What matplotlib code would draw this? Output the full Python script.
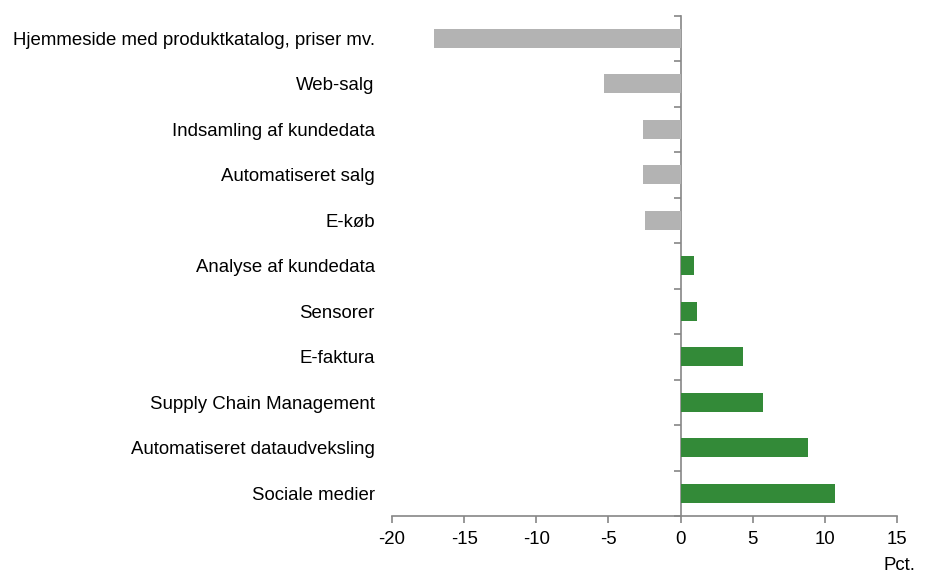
import matplotlib
matplotlib.use("Agg")
import matplotlib.pyplot as plt
import numpy as np

plt.rcParams['font.family'] = ['Liberation Sans', 'DejaVu Sans']

categories = [
    "Hjemmeside med produktkatalog, priser mv.",
    "Web-salg",
    "Indsamling af kundedata",
    "Automatiseret salg",
    "E-køb",
    "Analyse af kundedata",
    "Sensorer",
    "E-faktura",
    "Supply Chain Management",
    "Automatiseret dataudveksling",
    "Sociale medier",
]
values = [-17.1, -5.3, -2.6, -2.6, -2.5, 0.9, 1.15, 4.3, 5.7, 8.8, 10.7]
x_ticks = [-20, -15, -10, -5, 0, 5, 10, 15]
unit_label = "Pct."

neg_color = "#B3B3B3"
pos_color = "#338A38"
axis_color = "#868686"
fs = 13.4

fig = plt.figure(figsize=(9.32, 5.86), dpi=100)
ax = fig.add_axes([392 / 932, 1 - 516 / 586, 505 / 932, 500.5 / 586])

n = len(categories)
ypos = np.arange(n)[::-1]
colors = [neg_color if v < 0 else pos_color for v in values]
ax.barh(ypos, values, height=0.41, color=colors, zorder=2)

ax.set_xlim(x_ticks[0], x_ticks[-1])
ax.set_ylim(-0.5, n - 0.5)

# category labels on the left, without tick marks
ax.set_yticks(ypos)
ax.set_yticklabels(categories, fontsize=fs, color="black")
ax.tick_params(axis="y", length=0, pad=12.5)

# x axis
ax.set_xticks(x_ticks)
ax.set_xticklabels([str(t) for t in x_ticks], fontsize=fs)
ax.tick_params(axis="x", direction="out", length=5, width=1.2,
               color=axis_color, pad=5.5)

for s in ["left", "right", "top"]:
    ax.spines[s].set_visible(False)
ax.spines["bottom"].set_color(axis_color)
ax.spines["bottom"].set_linewidth(1.2)

# vertical axis line through zero with ticks between categories
zero_frac = (0 - x_ticks[0]) / (x_ticks[-1] - x_ticks[0])
sec = ax.secondary_yaxis(zero_frac)
sec.yaxis.set_ticks_position("left")
sec.set_yticks(np.arange(-0.5, n, 1.0))
sec.set_yticklabels([])
sec.tick_params(direction="out", length=5, width=1.2, color=axis_color)
for sp in sec.spines.values():
    sp.set_color(axis_color)
    sp.set_linewidth(1.2)

fig.text(915 / 932, 1 - 566 / 586, unit_label, fontsize=fs,
         ha="right", va="center")

fig.savefig("out.png", dpi=100)
